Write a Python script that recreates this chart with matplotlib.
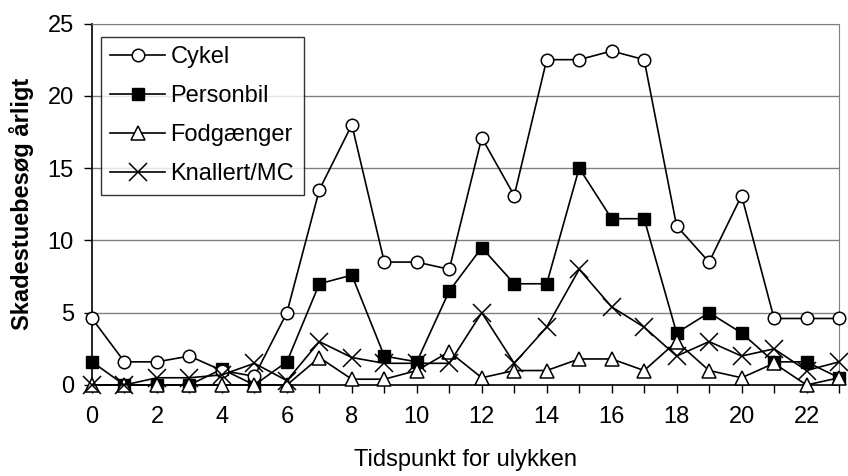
import numpy as np
import matplotlib
matplotlib.use("Agg")
import matplotlib.pyplot as plt

# hourly visits per year, by type of road user
hours = list(range(24))
cykel = [4.6, 1.6, 1.6, 2.0, 1.0, 0.6, 5.0, 13.5, 18.0, 8.5, 8.5, 8.0,
         17.1, 13.1, 22.5, 22.5, 23.1, 22.5, 11.0, 8.5, 13.1, 4.6, 4.6, 4.6]
personbil = [1.6, 0.0, 0.0, 0.0, 1.1, 0.0, 1.6, 7.0, 7.6, 2.0, 1.6, 6.5,
             9.5, 7.0, 7.0, 15.0, 11.5, 11.5, 3.6, 5.0, 3.6, 1.6, 1.6, 0.5]
fodgaenger = [0.0, 0.0, 0.0, 0.0, 0.0, 0.0, 0.0, 1.9, 0.4, 0.4, 1.0, 2.3,
              0.5, 1.0, 1.0, 1.8, 1.8, 1.0, 3.0, 1.0, 0.5, 1.5, 0.0, 0.5]
knallert = [0.0, 0.0, 0.5, 0.5, 0.7, 1.5, 0.3, 3.0, 1.9, 1.5, 1.5, 1.5,
            5.0, 1.5, 4.0, 8.0, 5.4, 4.0, 2.0, 3.0, 2.0, 2.5, 1.0, 1.6]

plt.rcParams['font.family'] = ['Liberation Sans', 'DejaVu Sans']
fs = 17

fig = plt.figure(figsize=(8.48, 4.76), dpi=100)
ax = fig.add_axes([0.1085, 0.1912, 0.8809, 0.7594])

lw = 1.2
ax.plot(hours, cykel, color='black', lw=lw, marker='o', ms=9, mfc='white',
        mec='black', mew=1.1, label='Cykel', clip_on=False, zorder=4)
ax.plot(hours, personbil, color='black', lw=lw, marker='s', ms=9, mfc='black',
        mec='black', label='Personbil', clip_on=False, zorder=3)
ax.plot(hours, fodgaenger, color='black', lw=lw, marker='^', ms=10, mfc='white',
        mec='black', mew=1.1, label='Fodgænger', clip_on=False, zorder=5)
ax.plot(hours, knallert, color='black', lw=lw, marker='x', ms=13, mew=1.1,
        label='Knallert/MC', clip_on=False, zorder=6)

ax.set_xlim(0, 23)
ax.set_ylim(0, 25)
ax.set_yticks(range(0, 26, 5))
ax.set_xticks(hours)
ax.set_xticklabels([str(h) if h % 2 == 0 else '' for h in hours])
ax.yaxis.grid(True, color='#808080', lw=1)
ax.set_axisbelow(True)

for side in ['top', 'right']:
    ax.spines[side].set_color('#808080')
for side in ['left', 'bottom']:
    ax.spines[side].set_color('black')
    ax.spines[side].set_linewidth(1.2)

ax.tick_params(axis='both', direction='out', length=6, width=1, labelsize=fs,
               colors='black')
ax.tick_params(axis='x', pad=9)
ax.tick_params(axis='y', pad=7)

ax.set_xlabel('Tidspunkt for ulykken', fontsize=fs, labelpad=15)
ax.set_ylabel('Skadestuebesøg årligt', fontsize=fs, fontweight='bold',
              labelpad=10)

leg = ax.legend(loc='upper left', bbox_to_anchor=(0.012, 0.963), fontsize=fs,
                frameon=True, fancybox=False, edgecolor='black',
                handlelength=2.3, handletextpad=0.25, labelspacing=0.72,
                borderpad=0.4, borderaxespad=0)
leg.get_frame().set_linewidth(1)
leg.set_zorder(10)

fig.savefig('out.png', dpi=100)
